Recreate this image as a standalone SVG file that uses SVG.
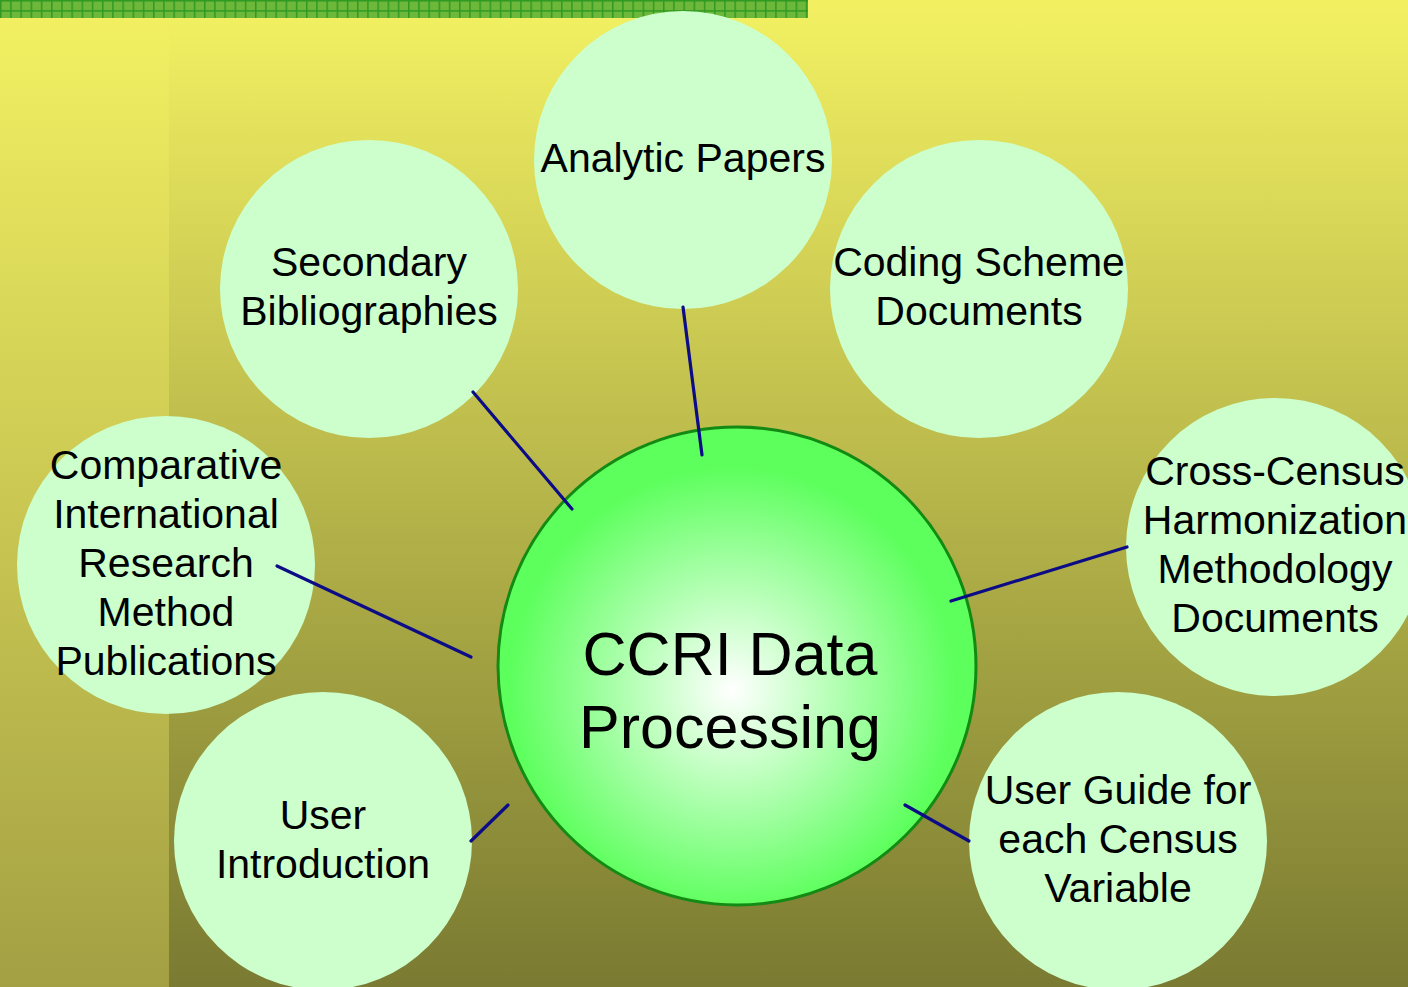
<svg xmlns="http://www.w3.org/2000/svg" width="1408" height="987" viewBox="0 0 1408 987">
<style>
.node{fill:#CCFFCC}
.t{font-family:"Liberation Sans",Arial,sans-serif;font-size:41px;fill:#000;text-anchor:middle}
.big{font-family:"Liberation Sans",Arial,sans-serif;font-size:61px;fill:#000;text-anchor:middle}
.conn line{stroke:#0C0C86;stroke-width:3.2;stroke-linecap:round}
</style>
<defs>
<linearGradient id="bg" x1="0" y1="0" x2="0" y2="1">
<stop offset="0" stop-color="#F3F162"/>
<stop offset="1" stop-color="#7A7A32"/>
</linearGradient>
<linearGradient id="bgl" x1="0" y1="0" x2="0" y2="1">
<stop offset="0" stop-color="#F3F162"/>
<stop offset="1" stop-color="#A3A044"/>
</linearGradient>
<radialGradient id="cg" cx="0.49" cy="0.55" r="0.55">
<stop offset="0" stop-color="#FFFFFF"/>
<stop offset="0.85" stop-color="#5CFF5C"/>
<stop offset="1" stop-color="#5CFF5C"/>
</radialGradient>
<pattern id="chk" x="0" y="0" width="10.2" height="10.2" patternUnits="userSpaceOnUse">
<rect width="10.2" height="10.2" fill="#6DB83A"/>
<rect x="0" y="0" width="1.5" height="10.2" fill="#2F9A22"/>
<rect x="0" y="0" width="10.2" height="1.5" fill="#2F9A22"/>
</pattern>
</defs>
<rect width="1408" height="987" fill="url(#bg)"/>
<rect width="169" height="987" fill="url(#bgl)"/>
<rect width="808" height="18" fill="url(#chk)"/>
<g id="analytic"><circle class="node" cx="683" cy="160" r="149"/><text class="t" x="683" y="172">Analytic Papers</text></g>
<g id="secondary"><circle class="node" cx="369" cy="289" r="149"/><text class="t" x="369" y="276">Secondary</text><text class="t" x="369" y="325">Bibliographies</text></g>
<g id="coding"><circle class="node" cx="979" cy="289" r="149"/><text class="t" x="979" y="276">Coding Scheme</text><text class="t" x="979" y="325">Documents</text></g>
<g id="comparative"><circle class="node" cx="166" cy="565" r="149"/><text class="t" x="166" y="479">Comparative</text><text class="t" x="166" y="528">International</text><text class="t" x="166" y="577">Research</text><text class="t" x="166" y="626">Method</text><text class="t" x="166" y="675">Publications</text></g>
<g id="userintro"><circle class="node" cx="323" cy="841" r="149"/><text class="t" x="323" y="829">User</text><text class="t" x="323" y="878">Introduction</text></g>
<g id="crosscensus"><circle class="node" cx="1275" cy="547" r="149"/><text class="t" x="1275" y="485">Cross-Census</text><text class="t" x="1275" y="534">Harmonization</text><text class="t" x="1275" y="583">Methodology</text><text class="t" x="1275" y="632">Documents</text></g>
<g id="userguide"><circle class="node" cx="1118" cy="841" r="149"/><text class="t" x="1118" y="804">User Guide for</text><text class="t" x="1118" y="853">each Census</text><text class="t" x="1118" y="902">Variable</text></g>
<g id="center"><circle cx="737" cy="666" r="239" fill="url(#cg)" stroke="#138A13" stroke-width="3"/><text class="big" x="730" y="675">CCRI Data</text><text class="big" x="730" y="748">Processing</text></g>
<g class="conn" id="connectors">
<line x1="683" y1="307" x2="702" y2="455"/>
<line x1="473" y1="392" x2="572" y2="509"/>
<line x1="277" y1="566" x2="471" y2="657"/>
<line x1="471" y1="841" x2="508" y2="805"/>
<line x1="1127" y1="547" x2="951" y2="601"/>
<line x1="905" y1="805" x2="969" y2="841"/>
</g>
</svg>
